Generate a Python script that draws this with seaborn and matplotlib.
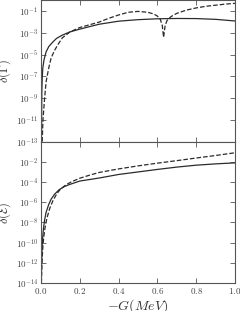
import numpy as np
import pandas as pd
import seaborn as sns
import matplotlib
matplotlib.use("Agg")
import matplotlib.pyplot as plt
from matplotlib.ticker import FixedLocator, FixedFormatter, NullLocator

# values (log10 of the y value)
top_solid_x = [0.002, 0.004, 0.006, 0.009, 0.015, 0.026, 0.04, 0.06, 0.08, 0.11,
               0.15, 0.2, 0.25, 0.3, 0.4, 0.5, 0.6, 0.7, 0.8, 0.9, 1.0]
top_solid_log = [-13, -8.5, -7.2, -6.25, -5.5, -4.75, -4.25, -3.85, -3.5, -3.2,
                 -2.9, -2.65, -2.42, -2.2, -1.92, -1.78, -1.7, -1.67, -1.68, -1.75, -1.9]

top_dash_x = [0.006, 0.01, 0.017, 0.026, 0.04, 0.052, 0.07, 0.086, 0.11, 0.15,
              0.2, 0.25, 0.3, 0.35, 0.4, 0.45, 0.5, 0.55, 0.58, 0.6, 0.615,
              0.625, 0.632, 0.64, 0.65, 0.67, 0.7, 0.75, 0.8, 0.85, 0.9, 0.95, 1.0]
top_dash_log = [-13, -11, -9.3, -7.5, -6.2, -5.3, -4.6, -4.1, -3.45, -2.9,
                -2.5, -2.25, -2.0, -1.65, -1.35, -1.1, -1.02, -1.1, -1.25, -1.45, -1.75,
                -2.3, -3.4, -2.3, -1.85, -1.5, -1.2, -0.9, -0.7, -0.55, -0.45, -0.35, -0.28]

bot_solid_x = [0.001, 0.003, 0.005, 0.008, 0.012, 0.018, 0.026, 0.04, 0.052, 0.07,
               0.094, 0.12, 0.146, 0.2, 0.25, 0.3, 0.4, 0.5, 0.6, 0.7, 0.8, 0.9, 1.0]
bot_solid_log = [-14, -12, -10.6, -9.6, -8.7, -7.8, -7.0, -6.2, -5.7, -5.2,
                 -4.75, -4.45, -4.25, -3.9, -3.75, -3.6, -3.25, -3.0, -2.75, -2.52,
                 -2.33, -2.2, -2.1]

bot_dash_x = [0.002, 0.005, 0.008, 0.013, 0.02, 0.03, 0.045, 0.06, 0.08, 0.1,
              0.13, 0.16, 0.2, 0.25, 0.3, 0.4, 0.5, 0.6, 0.7, 0.8, 0.9, 1.0]
bot_dash_log = [-14, -12, -10.8, -9.6, -8.6, -7.6, -6.6, -5.9, -5.2, -4.7,
                -4.25, -3.95, -3.62, -3.32, -3.05, -2.7, -2.4, -2.13, -1.88, -1.62,
                -1.37, -1.1]

top_ticks = [-13, -11, -9, -7, -5, -3, -1]
bot_ticks = [-14, -12, -10, -8, -6, -4, -2]
x_ticks = [0.0, 0.2, 0.4, 0.6, 0.8, 1.0]

sns.set_style("ticks")
plt.rcParams["mathtext.fontset"] = "cm"
plt.rcParams["font.family"] = ["DejaVu Serif"]
plt.rcParams["xtick.direction"] = "in"
plt.rcParams["ytick.direction"] = "in"

fig, (ax1, ax2) = plt.subplots(2, 1, figsize=(2.4, 3.11), dpi=100, sharex=True)
fig.subplots_adjust(left=0.171, right=0.979, top=0.999, bottom=0.09, hspace=0)

line_col = "#2b2b2b"
spine_col = "#555555"


def draw(ax, xs, ys, style):
    df = pd.DataFrame({"x": xs, "y": np.power(10.0, ys)})
    sns.lineplot(data=df, x="x", y="y", ax=ax, color=line_col, lw=0.9,
                 linestyle=style, sort=False, estimator=None)


draw(ax1, top_solid_x, top_solid_log, "-")
draw(ax1, top_dash_x, top_dash_log, "--")
draw(ax2, bot_solid_x, bot_solid_log, "-")
draw(ax2, bot_dash_x, bot_dash_log, "--")

for ax, ticks, lo in [(ax1, top_ticks, 1e-13), (ax2, bot_ticks, 1e-14)]:
    ax.set_yscale("log")
    ax.set_ylim(lo, 1e0)
    ax.set_xlim(0, 1)
    ax.yaxis.set_major_locator(FixedLocator([10.0 ** t for t in ticks]))
    ax.yaxis.set_major_formatter(FixedFormatter(["$10^{%d}$" % t for t in ticks]))
    ax.yaxis.set_minor_locator(NullLocator())
    ax.tick_params(which="both", top=True, right=True, length=3.5, width=0.6,
                   color=spine_col, labelsize=6.5, labelcolor="#444444", pad=2)
    for s in ax.spines.values():
        s.set_color(spine_col)
        s.set_linewidth(0.8)
    ax.set_xlabel("")

ax2.xaxis.set_major_locator(FixedLocator(x_ticks))
ax2.xaxis.set_major_formatter(FixedFormatter(["$%.1f$" % v for v in x_ticks]))
ax2.xaxis.set_minor_locator(NullLocator())

ax1.set_ylabel(r"$\delta(\Gamma)$", fontsize=9, color="#333333")
ax2.set_ylabel(r"$\delta(\mathcal{E})$", fontsize=9, color="#333333")
ax1.yaxis.set_label_coords(-0.145, 0.5)
ax2.yaxis.set_label_coords(-0.145, 0.5)
ax2.set_xlabel(r"$-G(MeV)$", fontsize=10, color="#333333")
ax2.xaxis.set_label_coords(0.5, -0.1)

fig.savefig("out.png", dpi=100)
